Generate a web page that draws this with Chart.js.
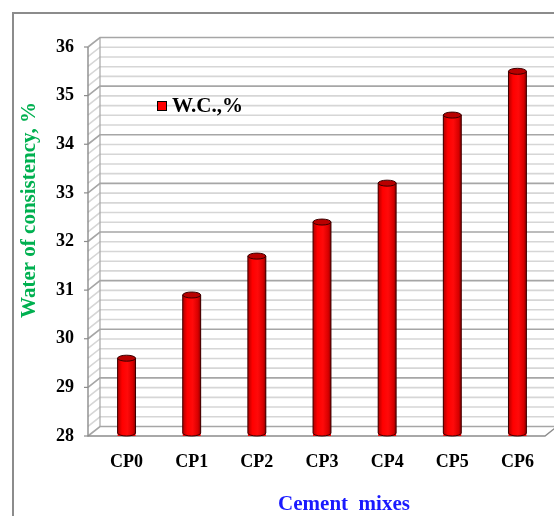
<!DOCTYPE html>
<html>
<head>
<meta charset="utf-8">
<script src="https://cdn.jsdelivr.net/npm/chart.js@4.4.1/dist/chart.umd.min.js"></script>
<style>
  html, body { margin: 0; padding: 0; background: #fff; }
  #wrap { width: 554px; height: 516px; }
</style>
</head>
<body>
<div id="wrap"><canvas id="wcChart" width="554" height="516"></canvas></div>
<script>
var mixes = ['CP0', 'CP1', 'CP2', 'CP3', 'CP4', 'CP5', 'CP6'];
var waterConsistency = [29.6, 30.9, 31.7, 32.4, 33.2, 34.6, 35.5];
var seriesName = 'W.C.,%';
var yMin = 28, yMax = 36;

var serif = "'Liberation Serif', 'Times New Roman', serif";
var DX = 12, DY = 9.5;   // depth of the fake 3D box

// back wall, side wall, floor, frame and titles
var box3d = {
    id: 'box3d',
    beforeDatasetsDraw: function(chart) {
        var ctx = chart.ctx, ya = chart.scales.y, area = chart.chartArea;
        var xf = area.left - 6, xb = xf + DX;
        ctx.save();
        // outer frame
        ctx.strokeStyle = '#8c8c8c';
        ctx.lineWidth = 2;
        ctx.beginPath();
        ctx.moveTo(13, 516); ctx.lineTo(13, 13); ctx.lineTo(554, 13);
        ctx.stroke();

        // grid: minor every 0.2, major every 1
        for (var i = 0; i <= (yMax - yMin) * 5; i++) {
            var v = yMin + i * 0.2;
            var yf = ya.getPixelForValue(v);
            var major = i % 5 === 0;
            ctx.strokeStyle = major ? '#a6a6a6' : '#d6d6d6';
            ctx.lineWidth = 1.6;
            ctx.beginPath();
            ctx.moveTo(xf, yf);
            ctx.lineTo(xb, yf - DY);
            ctx.lineTo(560, yf - DY);
            ctx.stroke();
            if (major) {
                ctx.strokeStyle = '#8c8c8c';
                ctx.lineWidth = 1.2;
                ctx.beginPath();
                ctx.moveTo(xf - 4, yf); ctx.lineTo(xf, yf);
                ctx.stroke();
            }
        }
        var top = ya.getPixelForValue(yMax), bot = ya.getPixelForValue(yMin);
        ctx.strokeStyle = '#a6a6a6';
        ctx.lineWidth = 1.2;
        ctx.beginPath();
        ctx.moveTo(xb, top - DY); ctx.lineTo(xb, bot - DY);
        ctx.stroke();
        ctx.strokeStyle = '#8c8c8c';
        ctx.lineWidth = 1.4;
        ctx.beginPath();
        ctx.moveTo(xf, top); ctx.lineTo(xf, bot);
        ctx.lineTo(545, bot); ctx.lineTo(545 + DX, bot - DY);
        ctx.stroke();

        // axis titles
        ctx.font = 'bold 21px ' + serif;
        ctx.fillStyle = '#1a1aff';
        ctx.textAlign = 'center';
        ctx.textBaseline = 'middle';
        ctx.fillText('Cement  mixes', 344, 505);
        ctx.translate(30, 210);
        ctx.rotate(-Math.PI / 2);
        ctx.fillStyle = '#00b050';
        ctx.fillText('Water of consistency, %', 0, 0);
        ctx.restore();
    },
    afterDatasetsDraw: function(chart) {
        var ctx = chart.ctx;
        var meta = chart.getDatasetMeta(0);
        var floor = chart.scales.y.getPixelForValue(yMin);
        ctx.save();
        meta.data.forEach(function(bar) {
            var p = bar.getProps(['x', 'y', 'width'], true);
            var rx = p.width / 2, ry = 3;
            var l = p.x - rx, r = p.x + rx, b = floor - ry;
            var g = ctx.createLinearGradient(l, 0, r, 0);
            g.addColorStop(0, '#b00000');
            g.addColorStop(0.25, '#ff0000');
            g.addColorStop(0.55, '#ff0a0a');
            g.addColorStop(0.85, '#d80000');
            g.addColorStop(1, '#8a0000');
            ctx.fillStyle = g;
            ctx.strokeStyle = '#3a0000';
            ctx.lineWidth = 1;
            ctx.beginPath();
            ctx.moveTo(l, p.y);
            ctx.lineTo(l, b);
            ctx.ellipse(p.x, b, rx, ry, 0, Math.PI, 0, true);
            ctx.lineTo(r, p.y);
            ctx.closePath();
            ctx.fill();
            ctx.stroke();
            ctx.fillStyle = '#b80000';
            ctx.beginPath();
            ctx.ellipse(p.x, p.y, rx, ry, 0, 0, Math.PI * 2);
            ctx.fill();
            ctx.stroke();
        });

        // legend
        ctx.fillStyle = chart.data.datasets[0].backgroundColor;
        ctx.strokeStyle = '#000';
        ctx.lineWidth = 1;
        ctx.fillRect(157, 101, 10, 10);
        ctx.strokeRect(157.5, 101.5, 9, 9);
        ctx.font = 'bold 21px ' + serif;
        ctx.fillStyle = '#000';
        ctx.textAlign = 'left';
        ctx.textBaseline = 'middle';
        ctx.fillText(chart.data.datasets[0].label, 172, 107);
        ctx.restore();
    }
};

new Chart(document.getElementById('wcChart'), {
    type: 'bar',
    data: {
        labels: mixes,
        datasets: [{
            label: seriesName,
            data: waterConsistency,
            backgroundColor: '#ff0000',
            borderWidth: 0,
            barPercentage: 0.55,
            categoryPercentage: 0.5
        }]
    },
    options: {
        responsive: false,
        animation: false,
        layout: { padding: { left: 0, right: 4, top: 47, bottom: 0 } },
        plugins: { legend: { display: false }, tooltip: { enabled: false } },
        scales: {
            x: {
                grid: { display: false, drawTicks: false },
                border: { display: false },
                ticks: { color: '#000', padding: 16, font: { family: serif, size: 18, weight: 'bold' } },
                afterFit: function(s) { s.height = 80; }
            },
            y: {
                min: yMin, max: yMax,
                grid: { display: false, drawTicks: false },
                border: { display: false },
                ticks: { stepSize: 1, color: '#000', padding: 20, font: { family: serif, size: 18, weight: 'bold' } },
                afterFit: function(s) { s.width = 94; }
            }
        }
    },
    plugins: [box3d]
});
</script>
</body>
</html>
